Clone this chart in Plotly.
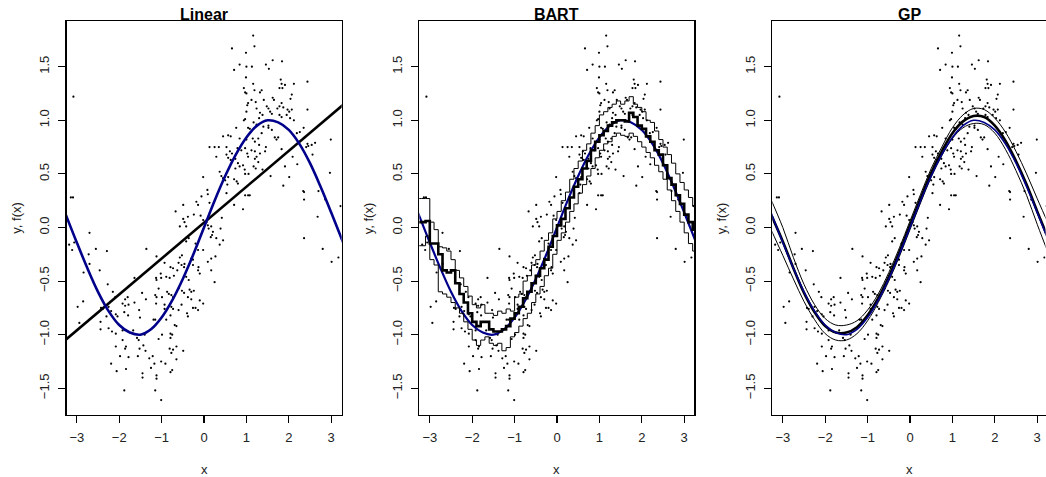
import plotly.graph_objects as go

# ---------------- data ----------------
pts_x = [
 -3.08,-3.14,-3.09,-3.18,-3.11,-3.06,-2.70,-2.72,-2.55,-2.29,-1.36,-2.70,-2.46,-2.84,-2.27,-1.64,-1.12,-1.13,-1.12,-2.15,
 -2.09,-2.98,-2.85,-2.94,-2.43,-2.39,-2.25,-2.19,-2.08,-2.04,-2.44,-2.44,-2.30,-2.25,-2.17,-2.08,-1.92,-1.86,-1.80,-1.92,
 -1.86,-1.78,-1.88,-1.79,-1.64,-1.53,-1.46,-1.37,-1.15,-1.12,-1.13,-1.19,-1.15,-1.51,-1.67,-1.92,-1.84,-1.86,-2.08,-1.58,
 -1.54,-1.40,-1.43,-1.38,-1.98,-1.78,-1.56,-1.29,-1.21,-1.17,-2.19,-2.06,-1.84,-1.45,-1.45,-1.25,-1.12,-1.12,-1.88,-1.15,
 -1.52,
 1.16,0.66,0.99,0.71,0.84,1.00,0.99,0.94,0.97,1.00,1.04,1.02,1.00,0.94,0.97,0.76,1.04,1.08,0.84,1.00,
 0.57,0.63,0.45,0.13,0.25,0.35,0.29,0.53,0.61,0.66,0.79,0.88,0.97,1.02,1.04,0.53,0.57,0.63,0.74,0.80,
 0.84,0.92,0.96,0.97,1.05,0.74,0.37,0.41,0.45,0.50,0.57,0.71,0.77,0.80,-0.02,0.08,-0.06,0.55,0.97,1.04,
 1.08,0.53,0.71,0.92,0.09,0.13,-0.18,-0.14,-0.49,-0.67,-0.49,-0.46,-0.38,-0.57,-0.42,-0.24,-0.08,-0.02,0.06,0.09,
 0.11,0.17,0.21,0.42,0.39,0.16,0.19,0.29,0.45,0.37,-0.36,-0.42,-0.20,-0.14,-0.02,-0.52,-0.57,-0.30,-0.26,0.09,
 0.17,0.27,-0.93,-0.79,-0.73,-0.60,-0.53,-0.47,-0.46,-0.13,-0.26,-1.02,-1.01,-0.89,-0.81,-0.71,-0.63,-0.42,-0.36,0.17,
 -0.14,-0.10,0.25,-1.07,-0.99,-0.87,-0.83,-0.77,-0.73,-0.60,-0.52,-0.47,-0.34,-0.30,-0.24,-0.38,-0.30,-0.10,-0.02,-0.53,
 -0.77,-0.73,-0.93,-0.93,-0.60,-0.40,-0.26,-0.20,-0.14,-0.38,-0.79,-0.89,-0.69,-0.65,-0.99,-0.79,-0.75,-0.79,-1.07,-0.81,
 -0.73,-0.77,-0.65,-0.49,-0.65,-1.01,-0.91,-0.75,-0.79,-1.01,
 1.19,1.13,1.46,1.53,1.62,1.84,1.16,1.19,1.32,1.36,1.81,1.83,1.91,1.78,1.85,2.12,2.44,1.12,1.22,1.41,
 1.48,1.62,1.65,2.07,2.04,1.83,1.87,1.24,1.32,1.38,1.30,1.52,1.56,1.60,1.73,1.78,1.97,2.01,2.07,2.44,
 1.78,1.83,1.95,2.03,2.12,1.17,1.24,1.40,1.52,1.36,1.28,1.52,1.60,1.15,1.20,1.30,1.67,1.71,1.75,2.19,
 2.26,2.35,2.41,2.46,2.54,2.62,2.44,2.99,1.46,1.12,1.20,1.32,1.44,1.83,2.09,2.56,2.20,1.91,1.24,1.20,
 1.28,1.17,1.22,1.38,1.57,2.01,1.87,2.97,2.34,2.36,2.36,2.70,2.86,3.22,2.68,2.36,2.80,3.01,3.17,
]
pts_y = [
 1.22,0.28,0.28,-0.16,-0.21,-0.14,-0.05,-0.25,-0.20,-0.22,-0.20,-0.34,-0.40,-0.42,-0.53,-0.47,-0.27,-0.47,-0.49,-0.60,
 -0.65,-0.74,-0.69,-0.89,-0.75,-0.76,-0.74,-0.78,-0.81,-0.83,-0.88,-0.95,-0.83,-0.94,-0.97,-0.99,-0.96,-0.67,-0.65,-0.71,
 -0.73,-0.72,-0.79,-0.82,-0.70,-0.77,-0.61,-0.67,-0.63,-0.65,-0.71,-0.86,-0.86,-0.84,-0.96,-1.05,-1.11,-1.13,-1.11,-1.03,
 -1.05,-1.00,-1.10,-1.15,-1.20,-1.21,-1.20,-1.22,-1.20,-1.27,-1.27,-1.34,-1.32,-1.36,-1.40,-1.31,-1.38,-1.41,-1.52,-1.52,
 -1.13,
 1.79,1.67,1.63,1.47,1.52,1.50,1.40,1.30,1.26,1.25,1.16,1.14,1.08,1.00,1.01,0.93,0.93,0.92,0.83,0.82,
 0.86,0.85,0.85,0.75,0.75,0.75,0.66,0.75,0.71,0.69,0.74,0.72,0.74,0.69,0.66,0.68,0.65,0.63,0.64,0.60,
 0.57,0.58,0.54,0.50,0.50,0.55,0.52,0.48,0.46,0.44,0.47,0.45,0.43,0.41,0.47,0.35,0.29,0.40,0.30,0.30,
 0.30,0.32,0.21,0.17,0.31,0.23,0.24,0.21,0.21,0.15,0.08,0.05,0.10,0.01,0.01,0.12,0.11,0.07,0.05,0.02,
 -0.01,0.01,-0.04,0.09,-0.01,-0.09,-0.07,-0.10,-0.12,-0.16,-0.10,-0.13,-0.15,-0.21,-0.21,-0.26,-0.28,-0.29,-0.30,-0.32,
 -0.29,-0.27,-0.33,-0.37,-0.38,-0.33,-0.35,-0.37,-0.34,-0.37,-0.35,-0.43,-0.47,-0.46,-0.47,-0.45,-0.40,-0.46,-0.49,-0.40,
 -0.40,-0.43,-0.51,-0.57,-0.65,-0.60,-0.62,-0.63,-0.65,-0.57,-0.59,-0.61,-0.58,-0.60,-0.59,-0.65,-0.67,-0.68,-0.71,-0.72,
 -0.74,-0.76,-0.72,-0.76,-0.77,-0.80,-0.75,-0.75,-0.77,-0.83,-0.82,-0.86,-0.91,-0.92,-1.00,-0.99,-1.00,-1.03,-1.04,-1.13,
 -1.14,-1.17,-1.11,-1.15,-1.23,-1.25,-1.27,-1.33,-1.35,-1.61,
 1.69,1.50,1.52,1.48,1.56,1.55,1.34,1.28,1.26,1.28,1.38,1.34,1.33,1.30,1.30,1.34,1.36,1.19,1.17,1.19,
 1.13,1.21,1.19,1.24,1.20,1.16,1.12,1.11,1.07,1.05,1.02,1.11,1.08,1.06,1.11,1.13,1.10,1.08,1.10,1.10,
 1.05,1.03,1.05,1.02,1.00,0.98,0.96,0.94,0.95,0.88,0.83,0.93,0.91,0.83,0.80,0.77,0.84,0.82,0.84,0.88,
 0.89,0.93,0.75,0.76,0.77,0.79,0.78,0.82,0.75,0.72,0.71,0.69,0.71,0.73,0.66,0.68,0.59,0.57,0.66,0.64,
 0.61,0.57,0.55,0.54,0.48,0.47,0.39,0.51,0.34,0.33,0.26,0.34,0.26,0.20,0.10,-0.10,-0.20,-0.32,-0.28,
]

# true function (blue), read at x steps
true_x = [-3.3,-3.0,-2.75,-2.5,-2.25,-2.0,-1.75,-1.5,-1.25,-1.0,-0.75,-0.5,-0.25,0.0,
          0.25,0.5,0.75,1.0,1.25,1.5,1.75,2.0,2.25,2.5,2.75,3.0,3.3]
true_y = [0.16,-0.14,-0.38,-0.60,-0.78,-0.91,-0.98,-1.00,-0.95,-0.84,-0.68,-0.48,-0.25,0.0,
          0.25,0.48,0.68,0.84,0.95,1.00,0.98,0.91,0.78,0.60,0.38,0.14,-0.16]

# linear fit
lin_x = [-3.3, 3.3]
lin_y = [-1.06, 1.15]

# BART posterior mean and bands (step functions)
bart_x = [-3.3,-3.2,-3.1,-3.0,-2.9,-2.8,-2.7,-2.6,-2.5,-2.4,-2.3,-2.2,-2.1,-2.0,-1.9,-1.8,-1.7,
          -1.6,-1.5,-1.4,-1.3,-1.2,-1.1,-1.0,-0.9,-0.8,-0.7,-0.6,-0.5,-0.4,-0.3,-0.2,-0.1,
          0.0,0.1,0.2,0.3,0.4,0.5,0.6,0.7,0.8,0.9,1.0,1.1,1.2,1.3,1.4,1.5,1.6,1.7,1.8,1.9,
          2.0,2.1,2.2,2.3,2.4,2.5,2.6,2.7,2.8,2.9,3.0,3.1,3.2,3.3]
bart_mean = [0.05,0.05,0.06,-0.15,-0.15,-0.25,-0.40,-0.42,-0.40,-0.52,-0.62,-0.70,-0.80,-0.88,-0.92,-0.88,-0.88,
             -0.95,-0.97,-0.97,-0.95,-0.92,-0.85,-0.80,-0.74,-0.66,-0.60,-0.52,-0.45,-0.38,-0.30,-0.18,-0.08,
             0.02,0.08,0.18,0.28,0.38,0.45,0.55,0.62,0.72,0.80,0.86,0.90,0.95,0.98,1.00,1.00,0.99,1.07,1.03,0.95,
             0.92,0.85,0.80,0.72,0.68,0.58,0.46,0.40,0.30,0.22,0.12,0.05,-0.02,-0.05]
bart_hi = [0.27,0.27,0.27,0.05,-0.02,-0.18,-0.19,-0.22,-0.30,-0.40,-0.47,-0.55,-0.64,-0.72,-0.75,-0.72,-0.80,
           -0.80,-0.82,-0.78,-0.80,-0.76,-0.78,-0.65,-0.62,-0.50,-0.45,-0.35,-0.30,-0.22,-0.12,-0.05,0.08,
           0.15,0.25,0.33,0.45,0.55,0.62,0.72,0.78,0.88,0.95,1.05,1.08,1.12,1.15,1.18,1.15,1.18,1.22,1.15,1.12,
           1.08,1.00,0.98,0.90,0.82,0.75,0.68,0.60,0.50,0.42,0.35,0.28,0.20,0.20]
bart_lo = [-0.17,-0.17,-0.08,-0.30,-0.35,-0.60,-0.62,-0.65,-0.70,-0.75,-0.80,-0.88,-0.95,-1.05,-1.10,-1.05,-1.02,
           -1.08,-1.10,-1.08,-1.15,-1.12,-1.02,-0.98,-0.92,-0.85,-0.80,-0.70,-0.62,-0.55,-0.45,-0.38,-0.25,
           -0.12,-0.05,0.05,0.15,0.22,0.32,0.40,0.48,0.55,0.65,0.72,0.78,0.80,0.85,0.88,0.86,0.85,0.88,0.85,0.80,
           0.75,0.70,0.65,0.58,0.52,0.45,0.35,0.25,0.15,0.05,-0.05,-0.15,-0.22,-0.27]

# GP posterior mean and bands
gp_x = [-3.3,-3.0,-2.75,-2.5,-2.25,-2.0,-1.75,-1.5,-1.25,-1.0,-0.75,-0.5,-0.25,0.0,
        0.25,0.5,0.75,1.0,1.25,1.5,1.75,2.0,2.25,2.5,2.75,3.0,3.3]
gp_mean = [0.14,-0.13,-0.38,-0.61,-0.79,-0.92,-0.98,-0.98,-0.93,-0.82,-0.66,-0.46,-0.23,0.02,
           0.27,0.51,0.71,0.88,0.99,1.04,1.03,0.95,0.81,0.62,0.40,0.15,-0.14]
gp_hi = [0.28,0.0,-0.28,-0.53,-0.72,-0.85,-0.91,-0.91,-0.87,-0.77,-0.62,-0.42,-0.19,0.06,
         0.31,0.55,0.75,0.93,1.05,1.11,1.10,1.02,0.89,0.71,0.50,0.27,0.0]
gp_lo = [0.0,-0.26,-0.48,-0.69,-0.86,-0.99,-1.05,-1.05,-0.99,-0.87,-0.70,-0.50,-0.27,-0.02,
         0.23,0.47,0.67,0.83,0.93,0.97,0.96,0.88,0.73,0.53,0.30,0.03,-0.28]

titles = ["Linear", "BART", "GP"]
x_ticks = [-3, -2, -1, 0, 1, 2, 3]
x_ticktext = ["\u22123", "\u22122", "\u22121", "0", "1", "2", "3"]
y_ticks = [-1.5, -1.0, -0.5, 0.0, 0.5, 1.0, 1.5]
y_ticktext = ["\u22121.5", "\u22121.0", "\u22120.5", "0.0", "0.5", "1.0", "1.5"]

# ---------------- figure ----------------
W, H = 1046, 477
OFF = 0.0   # body margin removed by post_script, figure starts at window (0, 0)
BLUE = "#00008B"
FONT = "Liberation Sans, Arial, Helvetica, sans-serif"

fig = go.Figure()

def add_points(ax):
    fig.add_trace(go.Scatter(x=pts_x, y=pts_y, mode="markers",
                             marker=dict(color="black", size=2.2),
                             xaxis=ax[0], yaxis=ax[1], showlegend=False, hoverinfo="skip"))

def add_line(ax, x, y, color, width, shape="linear"):
    fig.add_trace(go.Scatter(x=x, y=y, mode="lines",
                             line=dict(color=color, width=width, shape=shape),
                             xaxis=ax[0], yaxis=ax[1], showlegend=False, hoverinfo="skip"))

axes = [("x", "y"), ("x2", "y2"), ("x3", "y3")]

# Linear
add_points(axes[0])
add_line(axes[0], lin_x, lin_y, "black", 2.6)
add_line(axes[0], true_x, true_y, BLUE, 2.6, "spline")

# BART
add_points(axes[1])
add_line(axes[1], true_x, true_y, BLUE, 2.2, "spline")
add_line(axes[1], bart_x, bart_hi, "black", 1.0, "hv")
add_line(axes[1], bart_x, bart_lo, "black", 1.0, "hv")
add_line(axes[1], bart_x, bart_mean, "black", 2.6, "hv")

# GP
add_points(axes[2])
add_line(axes[2], gp_x, gp_hi, "black", 1.0, "spline")
add_line(axes[2], gp_x, gp_lo, "black", 1.0, "spline")
add_line(axes[2], gp_x, gp_mean, "black", 2.6, "spline")
add_line(axes[2], true_x, true_y, BLUE, 1.6, "spline")

# panel geometry (window pixels)
left_px = [66.7, 419.3, 772.3]
zero_px = [204.0, 557.0, 910.0]
ppu_x = 42.4
box_top, box_bot = 21.0, 415.0
y_top, y_bot = 1.926, -1.749

def fx(px):
    return (px - OFF) / W

def fy(py):
    return 1 - (py - OFF) / H

common_x = dict(showgrid=False, zeroline=False, showline=True, linecolor="black", linewidth=1.3,
                ticks="outside", ticklen=7, tickwidth=1.1, tickcolor="black",
                tickvals=x_ticks, ticktext=x_ticktext, ticklabelstandoff=3,
                tickfont=dict(family=FONT, size=13, color="#222"))
common_y = dict(showgrid=False, zeroline=False, showline=True, linecolor="black", linewidth=1.3,
                ticks="outside", ticklen=7, tickwidth=1.1, tickcolor="black",
                tickvals=y_ticks, ticktext=y_ticktext, tickangle=-90, ticklabelstandoff=4,
                tickfont=dict(family=FONT, size=13, color="#222"),
                range=[y_bot, y_top], domain=[fy(box_bot), fy(box_top)])

layout = dict(width=W, height=H, margin=dict(l=0, r=0, t=0, b=0),
              plot_bgcolor="white", paper_bgcolor="white", showlegend=False)

annotations = []
for i in range(3):
    sfx = "" if i == 0 else str(i + 1)
    l = left_px[i]
    r = min(l + 275.0, W - 0.5)
    x0 = (l - zero_px[i]) / ppu_x
    x1 = (r - zero_px[i]) / ppu_x
    xa = dict(common_x, domain=[fx(l), fx(r)], range=[x0, x1], anchor="y" + sfx,
              mirror=True)
    ya = dict(common_y, anchor="x" + sfx, mirror=(i < 2))
    layout["xaxis" + sfx] = xa
    layout["yaxis" + sfx] = ya
    cx = l + 137.5
    annotations.append(dict(text="<b>" + titles[i] + "</b>", x=fx(cx), y=fy(14.5),
                            xref="paper", yref="paper", showarrow=False,
                            xanchor="center", yanchor="middle",
                            font=dict(family=FONT, size=16, color="black")))
    annotations.append(dict(text="x", x=fx(cx), y=fy(469),
                            xref="paper", yref="paper", showarrow=False,
                            xanchor="center", yanchor="middle",
                            font=dict(family=FONT, size=13, color="#222")))
    annotations.append(dict(text="y, f(x)", x=fx(l - 51), y=fy(218),
                            xref="paper", yref="paper", showarrow=False, textangle=-90,
                            xanchor="center", yanchor="middle",
                            font=dict(family=FONT, size=13, color="#222")))

layout["annotations"] = annotations
fig.update_layout(**layout)
fig.write_html("out.html",
               config={"displayModeBar": False, "staticPlot": True},
               post_script="document.body.style.margin='0';document.body.style.overflow='hidden';")
